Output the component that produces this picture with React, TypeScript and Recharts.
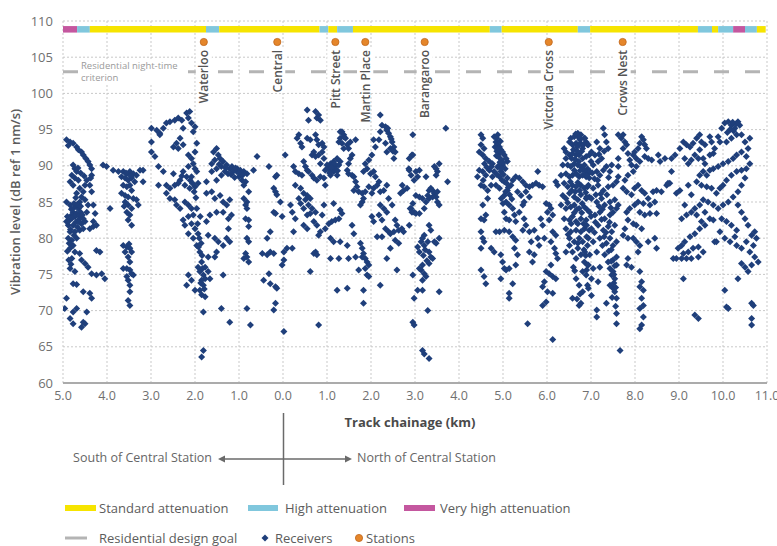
import React from 'react'
import {
  ScatterChart,
  Scatter,
  XAxis,
  YAxis,
  CartesianGrid,
  ReferenceArea,
  ReferenceLine
} from 'recharts'

type Pt = [number, number]

// axis ticks
const xTicks = [-5, -4, -3, -2, -1, 0, 1, 2, 3, 4, 5, 6, 7, 8, 9, 10, 11]
const yTicks = [60, 65, 70, 75, 80, 85, 90, 95, 100, 105, 110]

// stations along the alignment (negative = south of Central)
const stationNames = ['Waterloo', 'Central', 'Pitt Street', 'Martin Place', 'Barangaroo', 'Victoria Cross', 'Crows Nest']
const stationKm = [-1.8, -0.13, 1.19, 1.87, 3.22, 6.04, 7.72]
const stationLevel = 107.1

const criterionLevel = 103

// track form attenuation bands: start, end, type
const bandStart = [-5.0, -4.68, -4.39, -1.75, -1.45, 0.83, 1.03, 1.23, 1.59, 4.7, 4.97, 6.7, 6.98, 9.43, 9.75, 9.89, 10.23, 10.5, 10.77]
const bandEnd = [-4.68, -4.39, -1.75, -1.45, 0.83, 1.03, 1.23, 1.59, 4.7, 4.97, 6.7, 6.98, 9.43, 9.75, 9.89, 10.23, 10.5, 10.77, 10.97]
const bandType = ['very', 'high', 'std', 'high', 'std', 'high', 'std', 'high', 'std', 'high', 'std', 'high', 'std', 'high', 'std', 'high', 'very', 'high', 'std']

// receivers, km / dB
const southEnd: Pt[] = [
  [-4.92, 93.6], [-4.84, 93.3], [-4.77, 93.1], [-4.69, 92.6], [-4.65, 92.2], [-4.58, 91.9], [-4.54, 91.5], [-4.48, 91.0], [-4.43, 90.6], [-4.39, 90.1],
  [-4.35, 89.6], [-4.35, 88.7], [-4.37, 88.3], [-4.39, 87.3], [-4.77, 90.1], [-4.73, 89.6], [-4.69, 89.2], [-4.8, 88.7], [-4.73, 88.3], [-4.65, 88.0],
  [-4.84, 87.8], [-4.77, 87.3], [-4.62, 86.9], [-4.54, 86.4], [-4.69, 86.2], [-4.58, 85.7], [-4.5, 85.3], [-4.62, 85.0], [-4.92, 85.0], [-4.84, 84.6],
  [-4.73, 84.3], [-4.65, 84.1], [-4.77, 83.6], [-4.69, 83.4], [-4.8, 83.2], [-4.73, 83.0], [-4.62, 83.0], [-4.54, 82.7], [-4.65, 82.5], [-4.5, 82.3],
  [-4.58, 82.0], [-4.88, 81.8], [-4.77, 81.8], [-4.31, 82.3], [-4.27, 83.4], [-4.46, 83.6], [-4.43, 84.6], [-4.31, 84.6], [-4.35, 86.4], [-4.5, 87.3],
  [-4.46, 88.0], [-4.92, 82.3], [-4.84, 80.9], [-4.73, 80.9], [-4.62, 81.1], [-4.54, 81.3], [-4.39, 81.3], [-4.31, 81.6], [-4.24, 81.8], [-4.88, 80.0],
  [-4.8, 79.7], [-4.69, 80.0], [-4.77, 79.0], [-4.84, 78.6], [-4.73, 78.1], [-4.62, 77.9], [-4.58, 77.0], [-4.5, 76.5], [-4.43, 76.0], [-4.24, 78.3],
  [-4.16, 78.1], [-4.8, 77.2], [-4.84, 75.8], [-4.73, 75.4], [-4.35, 75.1], [-4.24, 74.9], [-4.12, 75.1], [-4.05, 74.4], [-4.77, 73.7], [-4.69, 73.6],
  [-4.54, 72.6], [-4.39, 72.4], [-4.35, 71.7], [-4.92, 71.7], [-4.96, 70.3], [-4.77, 69.8], [-4.69, 70.3], [-4.84, 68.9], [-4.77, 68.2], [-4.54, 68.4],
  [-4.58, 67.7], [-4.5, 68.2], [-4.46, 69.8], [-4.88, 92.8], [-4.81, 84.0], [-4.71, 82.2], [-4.6, 83.6], [-4.67, 81.5], [-4.86, 79.3], [-4.75, 80.4],
  [-4.9, 83.0], [-4.86, 82.4], [-4.83, 81.2], [-4.79, 82.8], [-4.75, 84.8], [-4.71, 85.6], [-4.67, 84.7], [-4.63, 82.2], [-4.6, 84.4], [-4.56, 83.2],
  [-4.9, 78.2], [-4.87, 77.0], [-4.82, 76.4], [-4.66, 89.7], [-4.6, 89.0], [-4.52, 88.6]
]

const southFour: Pt[] = [
  [-4.09, 90.1], [-4.01, 89.9], [-3.86, 89.4], [-3.74, 89.2], [-3.63, 89.2], [-3.55, 88.9], [-3.48, 89.2], [-3.4, 88.9], [-3.33, 88.7], [-3.25, 89.4],
  [-3.18, 89.4], [-3.67, 88.5], [-3.59, 88.3], [-3.52, 88.0], [-3.44, 88.3], [-3.37, 87.8], [-3.63, 87.3], [-3.55, 87.1], [-3.48, 87.3], [-3.44, 86.6],
  [-3.18, 87.8], [-3.67, 86.2], [-3.59, 85.9], [-3.52, 85.7], [-3.4, 85.5], [-3.33, 85.3], [-3.59, 85.0], [-3.52, 84.6], [-3.44, 84.1], [-3.55, 83.6],
  [-3.48, 83.2], [-3.52, 82.5], [-3.44, 81.8], [-3.93, 84.1], [-3.29, 84.6], [-3.63, 79.0], [-3.55, 78.8], [-3.48, 78.6], [-3.44, 78.1], [-3.59, 78.1],
  [-3.52, 77.4], [-3.48, 76.7], [-3.55, 75.8], [-3.48, 75.6], [-3.44, 75.1], [-3.55, 74.7], [-3.52, 74.2], [-3.48, 73.5], [-3.48, 72.6], [-3.52, 71.4],
  [-3.48, 70.7], [-3.63, 75.8], [-3.4, 74.9], [-3.57, 89.0], [-3.46, 88.6], [-3.61, 84.4], [-3.5, 79.2]
]

const southTwo: Pt[] = [
  [-2.99, 95.2], [-2.87, 94.9], [-2.8, 94.5], [-2.72, 95.2], [-2.65, 95.9], [-2.57, 96.1], [-2.46, 96.3], [-2.38, 96.6], [-2.3, 96.3], [-2.19, 97.3],
  [-2.12, 97.5], [-2.15, 96.6], [-2.08, 95.9], [-2.0, 95.4], [-2.04, 94.7], [-2.27, 95.2], [-2.34, 93.8], [-2.42, 93.1], [-2.49, 92.6], [-2.38, 92.4],
  [-2.8, 94.3], [-2.99, 93.3], [-2.99, 91.9], [-2.91, 91.3], [-2.83, 89.9], [-2.83, 87.3], [-2.72, 89.2], [-2.65, 87.3], [-2.57, 86.9], [-2.49, 88.9],
  [-2.46, 87.3], [-2.38, 87.6], [-2.34, 88.0], [-2.27, 89.2], [-2.15, 89.9], [-2.04, 90.3], [-2.0, 89.6], [-1.96, 89.2], [-2.08, 88.5], [-2.19, 88.5],
  [-2.23, 87.3], [-2.12, 86.9], [-2.0, 87.1], [-1.93, 87.6], [-2.27, 92.9], [-2.15, 91.5], [-2.08, 91.0], [-2.0, 91.9], [-1.96, 93.1], [-2.65, 86.2],
  [-2.57, 85.5], [-2.46, 85.3], [-2.42, 84.6], [-2.34, 84.1], [-2.23, 85.0], [-2.15, 84.6], [-2.08, 84.1], [-2.04, 83.2], [-1.96, 84.1], [-2.15, 83.0],
  [-2.27, 82.5], [-2.23, 81.8], [-2.08, 82.0], [-2.0, 81.3], [-1.93, 80.6], [-2.15, 80.6], [-2.04, 80.0], [-1.96, 79.0], [-1.89, 78.1], [-1.85, 76.7],
  [-1.93, 76.0], [-1.89, 75.4], [-1.81, 74.9], [-1.77, 74.4], [-1.85, 74.2], [-1.81, 73.5], [-1.89, 72.8], [-1.85, 72.2], [-1.77, 71.9], [-2.15, 74.9],
  [-2.08, 74.2], [-2.19, 73.5], [-2.0, 72.8], [-1.77, 76.0], [-1.7, 75.4], [-1.66, 74.4], [-1.81, 69.8], [-1.81, 64.5], [-1.85, 63.6], [-1.9, 80.0],
  [-1.94, 82.0], [-1.88, 83.0], [-2.11, 88.0], [-2.02, 86.4], [-1.98, 85.6], [-1.86, 79.3], [-1.84, 77.6], [-1.87, 73.8], [-1.83, 75.8], [-1.79, 73.0],
  [-1.92, 78.8], [-2.06, 87.6], [-2.3, 88.6]
]

const waterloo: Pt[] = [
  [-1.58, 91.9], [-1.51, 92.4], [-1.47, 91.5], [-1.43, 91.0], [-1.36, 90.6], [-1.28, 90.1], [-1.21, 89.6], [-1.13, 89.2], [-1.05, 89.2], [-1.32, 89.2],
  [-1.4, 88.7], [-1.51, 89.6], [-1.62, 90.3], [-1.62, 89.2], [-1.51, 88.0], [-1.74, 87.8], [-1.74, 86.2], [-1.62, 86.4], [-1.55, 85.5], [-1.43, 85.9],
  [-1.36, 85.0], [-1.28, 84.6], [-1.21, 85.3], [-1.17, 83.2], [-1.24, 82.7], [-1.36, 83.6], [-1.51, 83.6], [-1.66, 83.2], [-1.74, 82.3], [-1.7, 80.4],
  [-1.55, 80.0], [-1.47, 79.5], [-1.36, 79.0], [-1.28, 80.0], [-1.21, 79.5], [-1.24, 81.3], [-1.51, 78.1], [-1.55, 77.4], [-1.36, 74.9], [-1.4, 70.3],
  [-1.21, 68.4], [-1.7, 77.4], [-1.04, 89.6], [-0.97, 89.4], [-0.89, 89.2], [-0.82, 88.9], [-1.0, 88.5], [-0.93, 88.0], [-0.85, 87.8], [-0.89, 87.3],
  [-0.78, 86.4], [-0.89, 85.5], [-0.82, 85.0], [-0.85, 84.6], [-0.82, 84.1], [-0.85, 82.7], [-0.78, 82.5], [-0.78, 81.6], [-0.82, 80.0], [-0.78, 79.5],
  [-0.85, 77.9], [-0.82, 77.4], [-0.89, 77.2], [-0.78, 76.7], [-0.82, 70.3], [-0.74, 68.0], [-0.67, 89.4], [-0.59, 91.3], [-1.45, 90.2], [-1.3, 89.7],
  [-1.18, 88.8], [-1.1, 88.4], [-0.95, 89.0], [-1.55, 90.8], [-1.4, 89.9], [-1.25, 88.9], [-1.16, 89.9], [-1.08, 89.7], [-1.0, 89.0], [-0.92, 88.7]
]

const central: Pt[] = [
  [-0.32, 89.9], [-0.29, 80.9], [-0.36, 80.0], [-0.47, 77.9], [-0.36, 77.7], [-0.29, 78.1], [-0.21, 77.9], [-0.32, 75.1], [-0.44, 74.2], [-0.29, 73.7],
  [-0.17, 73.3], [-0.14, 73.1], [-0.17, 71.0], [-0.21, 70.1], [-0.17, 88.5], [-0.14, 88.7], [-0.21, 86.9], [-0.17, 86.4], [-0.14, 86.0], [-0.21, 83.6],
  [-0.17, 83.4], [-0.02, 83.0], [-0.06, 85.0], [0.05, 91.5], [0.02, 78.1], [0.09, 78.6], [0.21, 78.6], [-0.02, 76.3], [0.02, 77.0], [0.02, 67.1],
  [0.32, 93.8], [0.36, 94.3], [0.4, 93.1], [0.43, 92.6], [0.55, 93.8], [0.62, 93.6], [0.74, 94.3], [0.77, 93.6], [0.81, 92.9], [0.89, 93.1],
  [0.93, 92.6], [0.7, 91.9], [0.66, 91.5], [0.74, 91.3], [0.81, 91.5], [0.89, 91.9], [0.93, 91.0], [0.85, 90.3], [0.96, 89.4], [0.24, 89.9],
  [0.28, 89.2], [0.36, 88.9], [0.43, 88.7], [0.47, 90.6], [0.51, 89.9], [0.55, 89.4], [0.58, 89.2], [0.66, 88.7], [0.7, 88.3], [0.77, 88.0],
  [0.85, 88.5], [0.93, 88.3], [0.96, 87.3], [0.28, 87.3], [0.4, 86.9], [0.47, 86.2], [0.55, 85.9], [0.62, 85.5], [0.51, 85.3], [0.58, 84.6],
  [0.66, 84.1], [0.74, 83.6], [0.62, 83.4], [0.55, 83.2], [0.47, 84.1], [0.4, 84.8], [0.36, 85.5], [0.17, 84.6], [0.21, 83.6], [0.28, 82.7],
  [0.24, 80.9], [0.47, 81.8], [0.55, 81.3], [0.7, 82.3], [0.77, 81.8], [0.89, 83.2], [0.93, 84.6], [0.85, 80.9], [0.81, 80.4], [0.74, 78.1],
  [0.7, 77.9], [0.77, 77.7], [0.62, 75.4], [0.81, 68.0], [0.55, 97.7], [0.58, 96.3], [0.74, 97.5], [0.77, 96.6], [0.85, 96.3], [0.81, 97.0]
]

const cityCore: Pt[] = [
  [1.34, 94.7], [1.38, 94.3], [1.3, 93.8], [1.27, 93.3], [1.34, 93.1], [1.42, 93.8], [1.46, 92.9], [1.38, 92.4], [1.23, 91.0], [1.15, 90.6],
  [1.08, 90.3], [1.0, 90.1], [1.04, 89.6], [1.11, 89.4], [1.19, 89.9], [1.27, 90.1], [1.15, 89.2], [1.08, 88.7], [1.0, 89.6], [1.23, 88.7],
  [1.3, 90.6], [1.53, 93.3], [1.49, 92.4], [1.65, 93.6], [1.57, 91.5], [1.53, 91.0], [1.49, 90.3], [1.46, 89.4], [1.49, 88.9], [1.57, 88.7],
  [1.61, 88.5], [1.65, 87.8], [1.68, 87.1], [1.61, 86.6], [1.72, 86.4], [1.8, 86.2], [1.8, 85.0], [1.76, 84.6], [1.83, 85.5], [1.15, 84.8],
  [1.3, 83.9], [1.34, 83.4], [1.27, 82.7], [1.19, 82.5], [1.11, 82.3], [1.04, 82.0], [0.96, 81.3], [1.08, 80.0], [1.15, 79.5], [1.3, 79.5],
  [1.46, 79.0], [1.57, 81.8], [1.61, 80.6], [1.76, 79.3], [1.8, 78.6], [1.83, 77.9], [1.87, 77.2], [1.91, 76.7], [1.95, 76.3], [1.87, 75.8],
  [1.8, 77.4], [1.72, 75.6], [1.91, 74.9], [1.95, 74.7], [1.08, 77.2], [1.27, 77.2], [1.49, 77.2], [1.65, 77.4], [1.23, 72.8], [1.46, 73.1],
  [1.83, 72.8], [1.83, 71.0], [1.3, 94.7], [1.38, 94.0], [1.12, 90.0], [1.2, 89.5], [1.06, 89.0], [1.17, 90.3], [1.24, 89.3], [1.1, 89.8]
]

const martinPlace: Pt[] = [
  [2.21, 97.0], [2.25, 95.6], [2.33, 95.4], [2.36, 94.9], [2.4, 94.5], [2.44, 94.0], [2.48, 93.3], [2.52, 92.6], [2.55, 91.9], [2.52, 91.0],
  [2.44, 92.4], [2.36, 91.9], [2.33, 93.1], [2.18, 93.6], [2.1, 92.6], [2.06, 93.6], [2.21, 94.7], [2.02, 91.5], [1.95, 90.8], [1.87, 90.3],
  [1.91, 89.6], [1.83, 89.2], [1.99, 88.9], [2.06, 89.2], [2.1, 88.5], [2.18, 87.8], [2.14, 87.3], [2.06, 86.9], [1.95, 87.1], [1.87, 86.4],
  [2.02, 86.2], [2.21, 86.4], [2.29, 86.6], [2.36, 87.3], [2.4, 85.5], [2.48, 84.6], [2.36, 83.6], [2.29, 84.1], [2.21, 84.6], [2.18, 83.2],
  [2.02, 83.0], [2.06, 82.3], [2.25, 82.5], [2.33, 81.3], [2.4, 80.9], [2.44, 80.6], [2.52, 80.9], [2.55, 82.5], [2.59, 81.8], [2.63, 81.1],
  [2.7, 81.3], [2.74, 80.9], [2.55, 79.7], [2.63, 79.3], [2.44, 78.6], [2.25, 80.2], [2.14, 80.2], [2.36, 77.2], [2.59, 75.6], [2.67, 86.2],
  [2.74, 86.6], [2.82, 86.9], [2.89, 84.1], [2.93, 83.6], [2.86, 89.6], [2.93, 91.5], [2.71, 87.3], [2.21, 73.5], [2.38, 95.2], [2.46, 93.7],
  [2.5, 92.0]
]

const barangaroo: Pt[] = [
  [2.95, 94.3], [2.95, 91.5], [2.87, 89.4], [2.91, 88.7], [2.98, 88.0], [3.02, 89.2], [3.06, 88.5], [3.1, 89.4], [3.25, 88.5], [3.32, 86.6],
  [3.36, 86.9], [3.4, 86.6], [3.44, 86.2], [3.48, 85.7], [3.51, 85.0], [3.55, 84.6], [3.51, 86.4], [3.48, 89.6], [3.51, 89.2], [3.55, 90.3],
  [3.44, 89.9], [3.48, 88.7], [3.4, 85.7], [3.32, 85.5], [3.29, 85.9], [3.25, 85.0], [3.21, 84.1], [3.17, 85.5], [3.1, 85.7], [3.02, 85.9],
  [2.95, 84.8], [2.91, 84.1], [2.98, 83.6], [3.02, 83.4], [3.1, 83.4], [2.87, 81.8], [3.32, 81.8], [3.36, 81.1], [3.21, 80.4], [3.17, 80.0],
  [3.14, 79.5], [3.21, 79.0], [3.29, 79.5], [3.44, 79.5], [3.55, 80.0], [3.48, 79.3], [3.06, 78.8], [3.1, 78.1], [3.32, 78.1], [3.36, 77.4],
  [3.4, 77.2], [3.32, 76.5], [3.17, 76.3], [3.14, 75.6], [3.21, 75.1], [3.25, 74.7], [3.17, 74.2], [3.1, 75.8], [2.95, 74.9], [3.17, 72.8],
  [3.06, 72.8], [2.98, 71.7], [3.29, 70.0], [3.55, 72.6], [2.95, 68.4], [2.98, 68.0], [3.17, 64.5], [3.21, 64.0], [3.32, 63.4], [3.74, 87.8],
  [3.7, 95.2], [2.87, 91.0], [3.19, 77.6], [3.23, 78.4], [3.27, 76.9]
]

const northFive: Pt[] = [
  [4.5, 94.3], [4.54, 93.8], [4.5, 92.9], [4.57, 92.4], [4.46, 91.9], [4.54, 91.5], [4.61, 91.0], [4.69, 90.6], [4.76, 90.3], [4.8, 94.0],
  [4.88, 94.3], [4.84, 93.3], [4.88, 92.9], [4.92, 92.6], [4.95, 92.2], [4.99, 91.9], [5.03, 91.5], [4.92, 91.7], [5.07, 91.0], [5.1, 90.6],
  [4.99, 90.1], [4.95, 89.2], [4.92, 88.5], [4.8, 89.2], [4.76, 88.5], [4.69, 89.4], [4.61, 88.7], [4.54, 89.2], [4.46, 89.4], [4.42, 88.5],
  [4.5, 87.3], [4.57, 87.1], [4.65, 86.6], [4.73, 87.3], [4.84, 87.3], [4.92, 86.9], [5.03, 87.8], [5.1, 88.3], [5.22, 88.0], [5.29, 88.5],
  [5.37, 88.3], [5.45, 87.8], [5.52, 87.3], [5.6, 87.1], [5.67, 87.3], [5.75, 87.6], [5.82, 87.3], [5.9, 87.1], [5.79, 89.2], [5.18, 87.3],
  [5.1, 86.6], [5.03, 85.9], [5.07, 85.0], [5.14, 84.6], [5.22, 84.1], [5.03, 83.6], [5.07, 82.7], [5.14, 82.5], [5.26, 83.2], [5.29, 82.3],
  [5.37, 83.6], [5.45, 84.6], [5.48, 85.0], [5.41, 85.9], [5.33, 86.4], [5.52, 86.4], [5.6, 85.7], [5.48, 82.7], [5.52, 81.8], [4.65, 85.5],
  [4.54, 84.6], [4.5, 82.7], [4.57, 82.5], [4.61, 83.2], [4.5, 80.9], [4.54, 80.0], [4.57, 79.5], [4.5, 78.6], [4.73, 78.6], [4.8, 78.1],
  [4.84, 80.9], [4.92, 80.9], [5.03, 81.1], [5.14, 80.9], [5.22, 80.2], [5.29, 79.7], [5.45, 81.1], [5.6, 80.9], [5.71, 81.1], [5.79, 80.0],
  [5.82, 79.0], [5.64, 79.5], [5.6, 78.1], [5.71, 77.7], [5.67, 76.7], [5.26, 78.6], [5.33, 77.7], [4.95, 77.7], [4.99, 76.7], [5.03, 75.8],
  [5.07, 75.6], [5.14, 75.8], [5.29, 76.3], [4.95, 74.4], [5.22, 73.7], [5.14, 72.4], [5.14, 71.7], [4.61, 73.7], [4.5, 75.6], [4.57, 74.7],
  [5.56, 68.2], [6.13, 66.0], [4.86, 92.0], [4.9, 91.2], [4.97, 90.8], [5.0, 90.4], [4.94, 93.4], [4.9, 90.0], [5.05, 89.6], [5.12, 87.0],
  [4.98, 88.0], [5.06, 86.4], [5.0, 84.8], [4.88, 89.8], [4.85, 91.4], [4.96, 85.5], [4.82, 92.6], [4.86, 93.8], [4.9, 92.4], [4.93, 90.5],
  [4.97, 89.6], [5.01, 88.8], [5.08, 87.6], [4.86, 88.8], [4.74, 89.9], [4.63, 89.8], [4.58, 90.3], [5.15, 86.0], [5.2, 85.4], [4.55, 88.0]
]

const victoriaCross: Pt[] = [
  [5.98, 84.8], [6.05, 84.6], [6.09, 84.1], [6.01, 83.6], [6.13, 83.2], [6.05, 82.5], [5.9, 81.8], [6.13, 80.9], [6.2, 80.4], [6.09, 79.5],
  [6.17, 78.6], [6.2, 77.9], [6.24, 77.2], [6.09, 76.3], [5.98, 75.4], [6.05, 75.1], [6.13, 74.7], [6.2, 74.4], [5.94, 74.0], [5.9, 73.3],
  [6.01, 72.6], [6.13, 72.4], [5.98, 71.2], [5.9, 70.7], [6.2, 87.8], [6.24, 87.3], [5.86, 82.7], [5.94, 80.0], [6.39, 92.4], [6.43, 91.9],
  [6.51, 93.3], [6.54, 93.8], [6.62, 94.0], [6.7, 94.5], [6.77, 94.3], [6.85, 93.8], [6.89, 93.3], [6.92, 92.9], [6.58, 92.9], [6.66, 93.1],
  [6.73, 92.9], [6.81, 92.4], [6.43, 91.0], [6.51, 91.5], [6.58, 91.7], [6.66, 91.5], [6.73, 91.5], [6.81, 91.0], [6.89, 91.3], [6.96, 91.5],
  [6.36, 90.1], [6.47, 90.1], [6.54, 89.9], [6.62, 90.3], [6.7, 90.1], [6.77, 89.9], [6.85, 90.1], [6.92, 89.6], [6.32, 88.7], [6.43, 88.9],
  [6.51, 88.5], [6.58, 88.7], [6.66, 88.9], [6.73, 88.5], [6.81, 88.7], [6.89, 88.5], [6.96, 88.3], [6.39, 87.6], [6.47, 87.1], [6.58, 87.3],
  [6.66, 87.1], [6.77, 87.3], [6.85, 86.9], [6.92, 87.1], [6.36, 85.9], [6.43, 85.5], [6.51, 86.2], [6.62, 85.7], [6.7, 85.3], [6.77, 86.0],
  [6.89, 85.5], [6.96, 85.7], [6.32, 84.6], [6.43, 84.1], [6.54, 84.3], [6.62, 84.6], [6.73, 84.1], [6.85, 84.3], [6.92, 83.9], [6.39, 82.7],
  [6.51, 82.5], [6.58, 83.0], [6.66, 82.3], [6.77, 82.7], [6.89, 82.5], [6.43, 81.3], [6.54, 80.9], [6.66, 81.1], [6.77, 80.9], [6.85, 81.3],
  [6.96, 81.1], [6.51, 80.0], [6.62, 79.5], [6.73, 80.0], [6.81, 79.5], [6.92, 79.0], [6.58, 78.1], [6.66, 77.2], [6.77, 77.7], [6.85, 76.7],
  [6.92, 76.3], [6.81, 75.4], [6.89, 74.9], [6.73, 73.5], [6.81, 72.6], [6.92, 73.5], [6.58, 71.7], [6.73, 70.7], [6.77, 71.0], [6.66, 74.4],
  [6.51, 79.0], [6.43, 78.1], [6.6, 92.2], [6.68, 92.6], [6.75, 93.6], [6.64, 90.9], [6.72, 90.6], [6.79, 92.0], [6.87, 89.2], [6.7, 87.7],
  [6.56, 86.6], [6.8, 84.8], [6.62, 83.5], [6.7, 82.0], [6.9, 80.2], [6.7, 78.6], [6.84, 78.4], [6.6, 76.0], [6.65, 94.4], [6.72, 93.9],
  [6.78, 93.0], [6.83, 92.9], [6.69, 92.0], [6.56, 91.0], [6.62, 89.4], [6.75, 89.3], [6.82, 89.6], [6.94, 88.9], [6.53, 87.8], [6.64, 86.4],
  [6.74, 86.6], [6.88, 86.3], [6.47, 84.9], [6.68, 84.0], [6.79, 83.5], [6.55, 82.0], [6.83, 82.0], [6.48, 80.5], [6.7, 79.3], [6.88, 77.6],
  [6.63, 75.5], [6.75, 72.3], [6.68, 71.6], [6.9, 75.6]
]

const crowsNest: Pt[] = [
  [6.86, 93.8], [6.94, 92.9], [7.01, 91.9], [7.09, 91.5], [7.16, 90.6], [7.24, 91.0], [7.28, 95.2], [7.31, 94.3], [7.35, 93.3], [7.39, 92.4],
  [7.2, 92.4], [7.13, 93.3], [7.05, 90.1], [6.97, 89.2], [6.9, 88.7], [7.13, 89.2], [7.2, 88.7], [7.28, 89.4], [7.35, 89.9], [7.43, 89.2],
  [7.47, 90.1], [6.94, 87.3], [7.05, 86.9], [7.16, 87.3], [7.28, 86.6], [7.39, 87.1], [7.5, 87.3], [7.58, 87.8], [7.62, 88.5], [6.9, 85.7],
  [7.01, 85.5], [7.13, 85.0], [7.24, 85.5], [7.31, 84.6], [7.43, 85.0], [7.54, 85.3], [7.62, 84.6], [6.97, 83.6], [7.09, 83.2], [7.2, 83.6],
  [7.31, 82.7], [7.43, 83.2], [7.5, 83.6], [7.58, 84.1], [6.9, 81.8], [7.01, 81.3], [7.16, 81.8], [7.28, 81.1], [7.39, 81.6], [7.47, 80.9],
  [7.54, 81.8], [6.94, 80.0], [7.05, 79.5], [7.2, 80.0], [7.35, 79.3], [7.43, 80.0], [7.5, 79.0], [7.58, 79.5], [6.86, 78.1], [6.97, 77.7],
  [7.13, 78.1], [7.31, 77.7], [7.39, 76.7], [7.5, 77.0], [7.58, 77.4], [6.94, 76.3], [7.05, 75.8], [7.2, 76.0], [7.43, 75.8], [7.5, 75.4],
  [7.58, 76.3], [7.01, 74.4], [7.16, 74.0], [7.47, 74.9], [7.54, 74.4], [6.94, 73.1], [7.01, 72.1], [7.43, 73.5], [7.5, 73.1], [7.54, 72.6],
  [7.58, 71.7], [7.13, 70.1], [7.13, 69.1], [7.35, 71.0], [7.58, 69.6], [7.58, 68.2], [7.66, 64.5], [7.62, 94.3], [7.69, 93.8], [7.73, 92.4],
  [7.62, 91.0], [7.62, 89.9], [7.0, 90.6], [7.08, 88.2], [7.22, 86.1], [7.36, 86.0], [7.45, 84.2], [7.26, 84.0], [7.1, 82.2], [7.42, 82.2],
  [7.3, 80.2], [7.46, 78.4], [7.54, 76.2], [7.52, 73.8], [7.56, 70.6], [7.4, 88.4], [7.3, 92.0], [7.18, 91.6], [7.03, 89.0], [7.11, 86.0],
  [7.18, 84.4], [7.24, 82.6], [7.34, 80.8], [7.4, 78.2], [7.46, 76.8], [7.52, 75.0], [7.56, 73.2], [7.48, 71.8], [7.26, 79.0], [7.08, 80.8],
  [7.0, 83.0], [7.15, 88.0]
]

const northEight: Pt[] = [
  [7.73, 94.3], [7.77, 93.3], [7.81, 92.9], [7.84, 91.7], [7.88, 90.8], [7.92, 90.1], [7.96, 91.5], [7.99, 91.9], [8.03, 91.0], [8.07, 92.4],
  [8.11, 93.1], [8.15, 94.0], [8.19, 93.6], [8.22, 92.9], [8.26, 92.4], [8.22, 91.3], [8.3, 91.0], [8.38, 90.8], [8.11, 90.6], [8.03, 89.9],
  [7.96, 89.2], [7.84, 88.7], [7.77, 88.0], [7.73, 86.9], [7.81, 86.4], [7.92, 86.0], [7.99, 86.9], [8.07, 87.3], [8.15, 86.6], [8.22, 86.2],
  [8.3, 85.5], [8.41, 86.4], [8.49, 86.6], [8.6, 86.4], [8.72, 87.3], [8.79, 87.6], [8.45, 85.0], [8.34, 84.6], [8.19, 84.8], [8.07, 85.0],
  [7.99, 84.6], [7.88, 84.1], [7.81, 83.6], [8.11, 83.6], [8.22, 83.2], [8.34, 83.4], [8.49, 83.4], [7.84, 82.5], [7.96, 82.0], [8.03, 81.8],
  [8.15, 81.3], [7.77, 81.3], [7.73, 80.4], [7.84, 80.0], [7.96, 80.0], [8.03, 79.5], [8.11, 79.0], [8.07, 78.1], [7.84, 77.2], [7.81, 76.3],
  [7.92, 76.0], [8.3, 79.5], [8.45, 80.0], [8.49, 78.6], [8.11, 75.4], [8.15, 74.0], [8.11, 73.3], [8.19, 72.8], [8.15, 71.7], [8.19, 70.7],
  [8.11, 70.3], [8.19, 69.1], [8.15, 68.0], [8.11, 67.5], [8.68, 91.0], [8.83, 91.0], [8.91, 91.5], [8.83, 89.2], [8.75, 87.6], [8.53, 91.5],
  [8.57, 90.6]
]

const northTen: Pt[] = [
  [9.02, 92.4], [9.1, 93.3], [9.17, 92.9], [9.25, 92.6], [9.32, 93.1], [9.4, 93.8], [9.47, 94.3], [9.51, 93.3], [9.59, 92.9], [9.47, 92.2],
  [9.36, 91.5], [9.28, 90.8], [9.44, 91.0], [9.55, 91.0], [9.59, 90.3], [9.7, 91.5], [9.78, 91.7], [9.81, 92.4], [9.89, 94.0], [9.93, 93.3],
  [9.97, 95.2], [10.04, 95.9], [10.12, 96.1], [10.19, 95.6], [10.27, 95.2], [10.34, 96.1], [10.38, 95.6], [10.31, 94.3], [10.19, 93.8], [10.08, 93.3],
  [10.42, 94.3], [10.5, 93.3], [10.57, 92.4], [10.61, 93.8], [10.42, 91.9], [10.31, 91.5], [10.23, 91.0], [10.12, 90.6], [10.0, 90.3], [9.89, 89.9],
  [9.78, 89.6], [9.7, 89.4], [9.63, 88.7], [9.55, 89.2], [9.47, 88.7], [9.4, 87.8], [9.51, 87.3], [9.63, 87.1], [9.74, 86.9], [9.85, 86.2],
  [9.93, 86.9], [10.0, 87.3], [10.08, 88.0], [10.19, 88.7], [10.31, 89.2], [10.42, 89.4], [10.53, 89.6], [10.5, 88.3], [10.42, 87.3], [10.34, 86.4],
  [10.23, 85.7], [10.12, 85.0], [10.0, 84.6], [9.89, 84.1], [9.78, 84.6], [9.66, 85.0], [9.55, 85.3], [9.47, 84.6], [9.36, 84.1], [9.28, 83.6],
  [9.17, 83.2], [9.06, 82.7], [9.13, 84.6], [9.02, 86.6], [8.94, 86.2], [9.21, 87.3], [9.28, 86.0], [9.4, 83.2], [9.51, 82.3], [9.59, 81.8],
  [9.47, 81.3], [9.36, 80.6], [9.25, 80.2], [9.13, 79.5], [9.06, 79.0], [8.98, 78.6], [9.1, 77.9], [9.21, 78.1], [9.32, 78.6], [9.44, 78.8],
  [9.55, 78.1], [9.44, 77.4], [9.28, 77.2], [9.17, 77.2], [9.06, 77.2], [8.94, 77.2], [8.87, 77.2], [9.97, 82.7], [10.08, 82.3], [10.19, 81.8],
  [10.31, 81.1], [10.27, 80.2], [10.16, 79.5], [10.04, 80.0], [9.93, 80.9], [9.81, 79.5], [10.31, 79.0], [10.42, 78.6], [10.53, 79.5], [10.65, 80.4],
  [10.72, 80.9], [10.76, 80.0], [10.69, 79.0], [10.61, 78.1], [10.72, 77.4], [10.8, 76.7], [10.65, 76.3], [10.57, 75.4], [10.5, 76.0], [10.42, 76.5],
  [10.34, 74.4], [9.1, 74.4], [10.04, 72.8], [10.08, 70.5], [10.12, 70.3], [10.65, 71.0], [10.69, 70.7], [10.65, 68.9], [10.65, 68.0], [9.36, 69.4],
  [9.44, 68.9], [9.85, 79.5], [9.7, 82.7], [9.78, 82.5], [9.59, 83.6], [10.5, 82.7], [10.57, 81.8], [10.42, 83.6], [10.34, 84.6], [10.53, 91.3],
  [10.61, 90.3], [9.7, 94.0], [9.74, 93.3], [9.13, 91.0], [9.21, 90.3], [10.16, 95.0], [10.24, 94.8], [10.3, 95.8], [10.22, 96.0], [10.1, 94.6]
]

const receivers = [
  ...southEnd, ...southFour, ...southTwo, ...waterloo, ...central, ...cityCore, ...martinPlace,
  ...barangaroo, ...northFive, ...victoriaCross, ...crowsNest, ...northEight, ...northTen
].map(([x, y]) => ({ x, y }))

const stations = stationNames.map((name, i) => ({ name, x: stationKm[i], y: stationLevel }))

const bandColors: Record<string, string> = { std: '#f6e400', high: '#80c7dd', very: '#c4579f' }
const navy = '#1f3f7b'
const orange = '#e5862a'
const textGrey = '#5c5c5c'

const Diamond = (props: any) => {
  const { cx, cy } = props
  if (cx == null || cy == null) return null
  const r = 3.5
  return <path d={`M${cx},${cy - r}L${cx + r},${cy}L${cx},${cy + r}L${cx - r},${cy}Z`} fill={navy} />
}

const StationMark = (props: any) => {
  const { cx, cy, payload } = props
  if (cx == null || cy == null) return null
  const tx = cx + 4.5
  const ty = cy + 8
  return (
    <g>
      <rect x={cx - 8} y={cy + 7} width={16} height={44} fill="#fff" />
      <circle cx={cx} cy={cy} r={3.6} fill={orange} stroke="#c0661a" strokeWidth={0.8} />
      <text
        x={tx}
        y={ty}
        transform={`rotate(-90 ${tx} ${ty})`}
        textAnchor="end"
        fontSize={12}
        fontWeight={600}
        fill="#555"
      >
        {payload.name}
      </text>
    </g>
  )
}

const CriterionLabel = (props: any) => {
  const vb = props.viewBox || {}
  const x = vb.x ?? 63
  const y = vb.y ?? 72
  return (
    <g>
      <rect x={x + 15} y={y - 12} width={110} height={24} fill="#fff" />
      <text x={x + 18} y={y - 3} fontSize={9.5} fill="#9a9a9a">Residential night-time</text>
      <text x={x + 18} y={y + 9} fontSize={9.5} fill="#9a9a9a">criterion</text>
    </g>
  )
}

const fmtKm = (v: number) => Math.abs(v).toFixed(1)

const App = () => {
  return (
    <div style={{ position: 'absolute', left: 0, top: 0, width: 777, height: 546, background: '#fff', fontFamily: "'Open Sans', sans-serif" }}>
      <ScatterChart width={777} height={412} margin={{ top: 21, right: 10, left: 13, bottom: 12 }}>
        <CartesianGrid stroke="#c9c9c9" strokeDasharray="2 2" />
        <XAxis
          type="number"
          dataKey="x"
          domain={[-5, 11]}
          ticks={xTicks}
          interval={0}
          allowDataOverflow
          tickFormatter={fmtKm}
          axisLine={{ stroke: '#ababab', strokeWidth: 2 }}
          tickLine={false}
          tickSize={0}
          tickMargin={8}
          height={17}
          tick={{ fill: '#707070', fontSize: 12.5 }}
        />
        <YAxis
          type="number"
          dataKey="y"
          domain={[60, 110]}
          ticks={yTicks}
          interval={0}
          allowDataOverflow
          axisLine={false}
          tickLine={false}
          tickSize={0}
          tickMargin={10}
          width={50}
          tick={{ fill: '#707070', fontSize: 13 }}
        />
        {bandStart.map((s, i) => (
          <ReferenceArea
            key={'band' + i}
            x1={s}
            x2={bandEnd[i]}
            y1={108.4}
            y2={109.3}
            fill={bandColors[bandType[i]]}
            fillOpacity={1}
            stroke="none"
          />
        ))}
        <ReferenceLine
          y={criterionLevel}
          stroke="#b4b4b4"
          strokeWidth={3}
          strokeDasharray="15 16"
          label={(p: any) => <CriterionLabel {...p} />}
        />
        <Scatter data={receivers} shape={<Diamond />} isAnimationActive={false} />
        <Scatter data={stations} shape={<StationMark />} isAnimationActive={false} />
      </ScatterChart>

      <svg width={777} height={546} style={{ position: 'absolute', left: 0, top: 0, pointerEvents: 'none' }}>
        <text transform="translate(20,202) rotate(-90)" textAnchor="middle" fontSize={13} fontWeight={600} fill={textGrey}>
          Vibration level (dB ref 1 nm/s)
        </text>
        <text x={410} y={427} textAnchor="middle" fontSize={13} fontWeight={700} fill="#4a4a4a">
          Track chainage (km)
        </text>

        <line x1={283.5} y1={413} x2={283.5} y2={485} stroke="#6a6a6a" strokeWidth={1.5} />
        <line x1={222} y1={459} x2={348} y2={459} stroke="#6a6a6a" strokeWidth={1.5} />
        <path d="M218,459L225,455.5L225,462.5Z" fill="#6a6a6a" />
        <path d="M352,459L345,455.5L345,462.5Z" fill="#6a6a6a" />
        <text x={212} y={462} textAnchor="end" fontSize={12.5} fill="#666">South of Central Station</text>
        <text x={357} y={462} fontSize={12.5} fill="#666">North of Central Station</text>

        <rect x={65} y={505} width={31} height={6} fill={bandColors.std} />
        <text x={99} y={512.5} fontSize={13} fill={textGrey}>Standard attenuation</text>
        <rect x={248} y={505} width={30} height={6} fill={bandColors.high} />
        <text x={285} y={512.5} fontSize={13} fill={textGrey}>High attenuation</text>
        <rect x={404} y={505} width={31} height={6} fill={bandColors.very} />
        <text x={440} y={512.5} fontSize={13} fill={textGrey}>Very high attenuation</text>

        <line x1={65} y1={538} x2={87} y2={538} stroke="#b4b4b4" strokeWidth={3} />
        <text x={99} y={542.5} fontSize={13} fill={textGrey}>Residential design goal</text>
        <path d="M265,534.5L268.5,538L265,541.5L261.5,538Z" fill={navy} />
        <text x={275} y={542.5} fontSize={13} fill={textGrey}>Receivers</text>
        <circle cx={359} cy={538} r={3.6} fill={orange} stroke="#c0661a" strokeWidth={0.8} />
        <text x={366} y={542.5} fontSize={13} fill={textGrey}>Stations</text>
      </svg>
    </div>
  )
}

export default App
